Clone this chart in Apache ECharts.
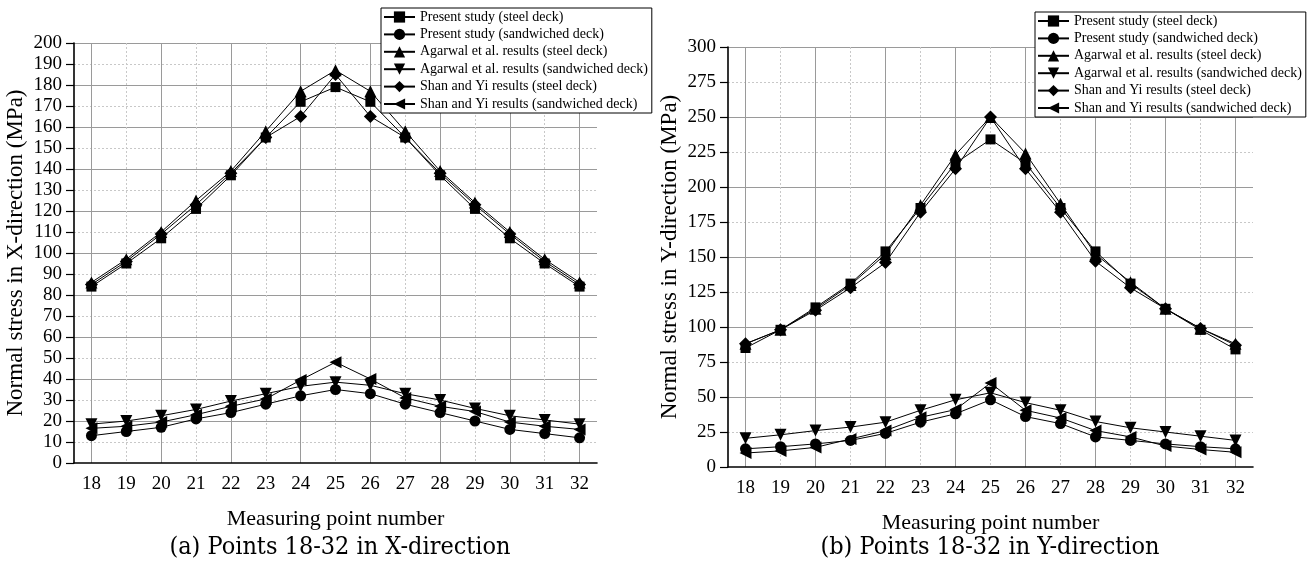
<!DOCTYPE html>
<html>
<head>
<meta charset="utf-8">
<title>Normal stress, points 18-32</title>
<script src="https://cdn.jsdelivr.net/npm/echarts@6/dist/echarts.min.js"></script>
<style>
  html, body { margin: 0; padding: 0; background: #fff; }
  #main { width: 1309px; height: 567px; }
</style>
</head>
<body>
<div id="main"></div>
<script>
// measuring points on the x axis
var points = [18, 19, 20, 21, 22, 23, 24, 25, 26, 27, 28, 29, 30, 31, 32];
var evenPoints = [18, 20, 22, 24, 26, 28, 30, 32];

var seriesNames = [
  'Present study (steel deck)',
  'Present study (sandwiched deck)',
  'Agarwal et al. results (steel deck)',
  'Agarwal et al. results (sandwiched deck)',
  'Shan and Yi results (steel deck)',
  'Shan and Yi results (sandwiched deck)'
];

// (a) normal stress in X-direction, MPa
var xPresentSteel  = [84, 95, 107, 121, 137, 155, 172, 179, 172, 155, 137, 121, 107, 95, 84];
var xPresentSand   = [13, 15, 17, 21, 24, 28, 32, 35, 33, 28, 24, 20, 16, 14, 12];
var xAgarwalSteel  = [86, 97, 110, 125, 139, 158, 177, 187, 177, 158, 139, 124, 110, 97, 86];
var xAgarwalSand   = [18.5, 20, 22.5, 25.5, 29.5, 33, 36.5, 38.5, 37, 33, 30, 26, 22.5, 20.5, 18.5];
var xShanSteel     = [85, 96, 109, 123, 138, 155, 165, 185, 165, 155, 138, 123, 109, 96, 85];
var xShanSand      = [16.5, 17.5, 19.5, 23, 27, 30.5, 39.5, 48, 40, 31, 27, 24.5, 19.5, 17.5, 16];

// (b) normal stress in Y-direction, MPa
var yPresentSteel  = [85, 98, 114, 131, 154, 185, 217, 234, 217, 185, 154, 131, 113, 98, 84];
var yPresentSand   = [13, 14.5, 16.5, 19, 24, 32, 38, 48, 36, 31, 21.5, 19, 16.5, 14.5, 13];
var yAgarwalSteel  = [88, 98, 113, 130, 152, 187, 223, 250, 224, 188, 152, 132, 113, 99, 88];
var yAgarwalSand   = [20.5, 23, 26, 28.5, 32, 40.5, 48, 53, 46, 40.5, 32.5, 28, 25, 22, 19];
var yShanSteel     = [88, 98, 112, 128, 146, 182, 213, 250, 213, 182, 147, 128, 113, 99, 87];
var yShanSand      = [10, 11.5, 14, 20, 26, 35.5, 41, 60, 40.5, 35, 26, 21.5, 15, 12.5, 10.5];

var serif = 'Liberation Serif, Times New Roman, serif';

var markers = [
  { symbol: 'rect', rotate: 0, size: 10 },
  { symbol: 'circle', rotate: 0, size: 11 },
  { symbol: 'triangle', rotate: 0, size: 12 },
  { symbol: 'triangle', rotate: 180, size: 12 },
  { symbol: 'diamond', rotate: 0, size: 13 },
  { symbol: 'triangle', rotate: 90, size: 12 }
];

function pairs(values) {
  return points.map(function (p, i) { return [p, values[i]]; });
}

function lineSeries(idx, values, axisIdx) {
  var m = markers[idx];
  return {
    name: seriesNames[idx],
    type: 'line',
    xAxisIndex: axisIdx,
    yAxisIndex: axisIdx,
    data: pairs(values),
    symbol: m.symbol,
    symbolRotate: m.rotate,
    symbolSize: m.size,
    showAllSymbol: true,
    lineStyle: { color: '#000', width: 1 },
    itemStyle: { color: '#000' },
    z: 3
  };
}

// visible x axis (labels + dotted lines at every point) and a hidden one (solid lines at even points)
function xAxes(grid) {
  return [
    {
      type: 'value', gridIndex: grid, min: 17.5, max: 32.5,
      name: 'Measuring point number', nameLocation: 'middle', nameGap: 45,
      nameTextStyle: { fontFamily: serif, fontSize: 22, color: '#000' },
      axisLine: { onZero: false, lineStyle: { color: '#000', width: 1.6 } },
      axisTick: { show: false, customValues: points },
      axisLabel: { customValues: points, fontFamily: serif, fontSize: 19, color: '#000', margin: 12 },
      splitLine: { show: true, lineStyle: { color: '#c8c8c8', width: 1, type: [2, 2] } }
    },
    {
      type: 'value', gridIndex: grid, min: 17.5, max: 32.5,
      axisLine: { show: false },
      axisTick: { show: false, customValues: evenPoints },
      axisLabel: { show: false, customValues: evenPoints },
      splitLine: { show: true, lineStyle: { color: '#9a9a9a', width: 1 } }
    }
  ];
}

function yAxes(grid, max, step, name) {
  return [
    {
      type: 'value', gridIndex: grid, min: 0, max: max, interval: step,
      name: name, nameLocation: 'middle', nameGap: 47,
      nameTextStyle: { fontFamily: serif, fontSize: 23, color: '#000' },
      axisLine: { show: true, onZero: false, lineStyle: { color: '#000', width: 1.6 } },
      axisTick: { show: true, length: 8, lineStyle: { color: '#000', width: 1.2 } },
      axisLabel: { fontFamily: serif, fontSize: 19, color: '#000', margin: 12 },
      splitLine: { show: true, showMinLine: false, lineStyle: { color: '#c8c8c8', width: 1, type: [2, 2] } }
    },
    {
      type: 'value', gridIndex: grid, min: 0, max: max, interval: step * 2,
      axisLine: { show: false }, axisTick: { show: false }, axisLabel: { show: false },
      splitLine: { show: true, showMinLine: false, lineStyle: { color: '#9a9a9a', width: 1 } }
    }
  ];
}

function legend(left, top) {
  return {
    left: left, top: top, orient: 'vertical',
    itemWidth: 31, itemHeight: 14, itemGap: 3.4,
    padding: [2, 4, 2, 2],
    borderColor: '#000', borderWidth: 1, backgroundColor: '#fff',
    selectedMode: false,
    textStyle: { fontFamily: serif, fontSize: 14, color: '#000' },
    data: seriesNames
  };
}

var chart = echarts.init(document.getElementById('main'), null, { renderer: 'canvas' });

var titleFont = { fontFamily: 'DejaVu Serif Condensed, DejaVu Serif, serif', fontSize: 25, fontWeight: 'normal', color: '#000' };

var option = {
  animation: false,
  backgroundColor: '#fff',
  title: [
    { text: '(a) Points 18-32 in X-direction', left: 340, top: 535, textAlign: 'center', padding: 0, textStyle: titleFont },
    { text: '(b) Points 18-32 in Y-direction', left: 990, top: 535, textAlign: 'center', padding: 0, textStyle: titleFont }
  ],
  legend: [legend(381, 8), legend(1035, 12)],
  grid: [
    { left: 74, top: 43, width: 523, height: 420 },
    { left: 728, top: 47, width: 525, height: 420 }
  ],
  xAxis: xAxes(0).concat(xAxes(1)),
  yAxis: yAxes(0, 200, 10, 'Normal stress in X-direction (MPa)')
    .concat(yAxes(1, 300, 25, 'Normal stress in Y-direction (MPa)')),
  series: [
    lineSeries(0, xPresentSteel, 0),
    lineSeries(1, xPresentSand, 0),
    lineSeries(2, xAgarwalSteel, 0),
    lineSeries(3, xAgarwalSand, 0),
    lineSeries(4, xShanSteel, 0),
    lineSeries(5, xShanSand, 0),
    lineSeries(0, yPresentSteel, 2),
    lineSeries(1, yPresentSand, 2),
    lineSeries(2, yAgarwalSteel, 2),
    lineSeries(3, yAgarwalSand, 2),
    lineSeries(4, yShanSteel, 2),
    lineSeries(5, yShanSand, 2)
  ]
};

chart.setOption(option);
</script>
</body>
</html>
